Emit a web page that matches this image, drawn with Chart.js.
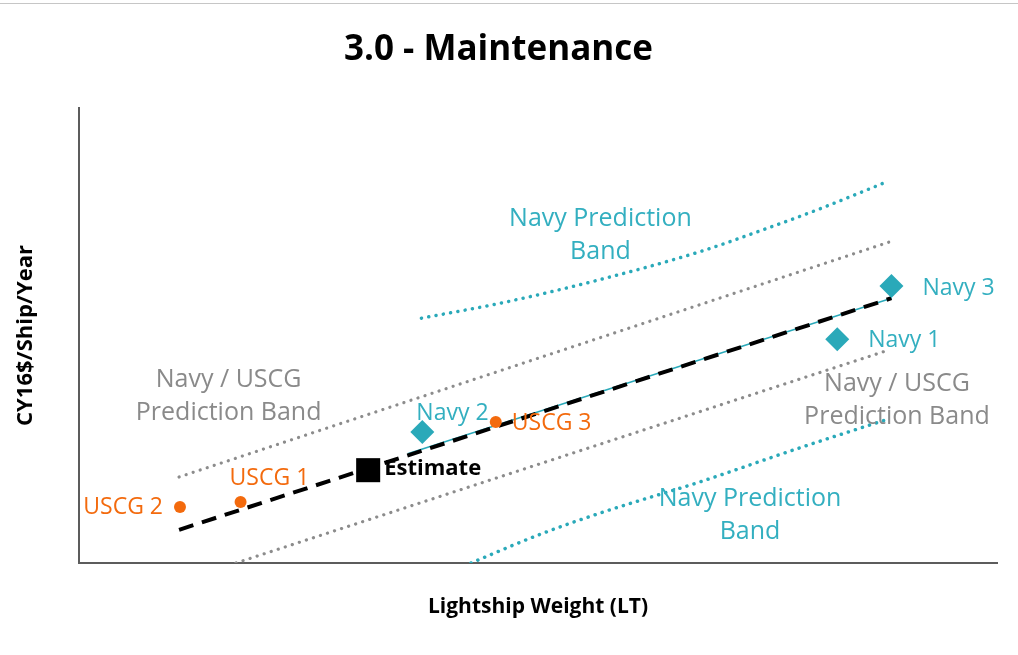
<!DOCTYPE html>
<html>
<head>
<meta charset="utf-8">
<script src="https://cdn.jsdelivr.net/npm/chart.js@4"></script>
<style>
  html, body { margin: 0; padding: 0; background: #fff; }
  #wrap { position: relative; width: 1018px; height: 655px; }
  #topline { position: absolute; left: 0; top: 3px; width: 1018px; height: 1px; background: #c6c6c6; }
</style>
</head>
<body>
<div id="wrap">
  <div id="topline"></div>
  <canvas id="c" width="1018" height="655"></canvas>
</div>
<script>
// ---- Data (x: lightship weight, y: CY16$/ship/year, arbitrary relative units) ----
const navyNames = ['Navy 1', 'Navy 2', 'Navy 3'];
const navyX = [82.6, 37.4, 88.5];
const navyY = [49.2, 28.8, 60.9];

const uscgNames = ['USCG 1', 'USCG 2', 'USCG 3'];
const uscgX = [17.6, 11.0, 45.4];
const uscgY = [13.4, 12.3, 31.0];

const estimateX = [31.5];
const estimateY = [20.4];

const combinedFitX = [10.9, 88.5];
const combinedFitY = [7.3, 58.2];

const navyFitX = [35.8, 88.5];
const navyFitY = [24.0, 58.2];

const combinedUpperX = [10.9, 88.2];
const combinedUpperY = [18.9, 70.5];
const combinedLowerX = [17.1, 88.2];
const combinedLowerY = [0.0, 46.8];

const navyUpperX = [37.3, 45.9, 56.2, 67.6, 74.2, 80.9, 87.9];
const navyUpperY = [53.8, 57.1, 62.0, 68.4, 73.0, 78.0, 83.7];
const navyLowerX = [42.7, 50.1, 56.8, 67.6, 78.5, 88.1];
const navyLowerY = [0.0, 6.2, 11.0, 17.8, 25.3, 31.6];

const bandLabelText = [['Navy Prediction', 'Band'], ['Navy / USCG', 'Prediction Band'], ['Navy / USCG', 'Prediction Band'], ['Navy Prediction', 'Band']];
const bandLabelX = [56.8, 16.3, 89.1, 73.1];
const bandLabelY = [72.1, 36.7, 35.8, 10.5];

const titleText = '3.0 - Maintenance';
const xTitle = 'Lightship Weight (LT)';
const yTitle = 'CY16$/Ship/Year';

// ---- Styles ----
const TEAL = '#2aa9b9';
const TEAL_TEXT = '#33afc0';
const ORANGE = '#f36a0d';
const GREY_TEXT = '#8a8a8a';
const GREY_DOT = '#8c8c8c';
const FONT = "'Open Sans', 'DejaVu Sans', sans-serif";

const pts = (xs, ys) => xs.map((x, i) => ({ x, y: ys[i] }));

// label offsets (px) relative to each marker
const navyLabelOffsets = [[31, 1, 'left'], [-6, -19, 'left'], [31, 3, 'left']];
const uscgLabelOffsets = [[-11, -24, 'left'], [-17, 0, 'right'], [16, 2, 'left']];

const labelPlugin = {
  id: 'labels',
  afterDatasetsDraw(chart) {
    const { ctx, scales: { x, y } } = chart;
    ctx.save();
    ctx.textBaseline = 'middle';
    const put = (names, xs, ys, offs, color, font) => {
      ctx.fillStyle = color; ctx.font = font;
      names.forEach((n, i) => {
        const [dx, dy, al] = offs[i];
        ctx.textAlign = al;
        ctx.fillText(n, x.getPixelForValue(xs[i]) + dx, y.getPixelForValue(ys[i]) + dy);
      });
    };
    put(navyNames, navyX, navyY, navyLabelOffsets, TEAL_TEXT, `23px ${FONT}`);
    put(uscgNames, uscgX, uscgY, uscgLabelOffsets, ORANGE, `23px ${FONT}`);
    put(['Estimate'], estimateX, estimateY, [[16, -1, 'left']], '#000', `bold 22px ${FONT}`);
    const colors = [TEAL_TEXT, GREY_TEXT, GREY_TEXT, TEAL_TEXT];
    ctx.textAlign = 'center';
    ctx.font = `25px ${FONT}`;
    bandLabelText.forEach((lines, i) => {
      ctx.fillStyle = colors[i];
      const cx = x.getPixelForValue(bandLabelX[i]);
      const cy = y.getPixelForValue(bandLabelY[i]);
      lines.forEach((t, j) => ctx.fillText(t, cx, cy - 16.5 + j * 33.5));
    });
    ctx.restore();
  }
};

const dotted = (color, w) => ({
  showLine: true, borderColor: color, borderWidth: w, borderDash: [0.1, 7.3],
  borderCapStyle: 'round', pointRadius: 0, pointHoverRadius: 0, fill: false, tension: 0
});

new Chart(document.getElementById('c'), {
  type: 'scatter',
  data: {
    datasets: [
      { label: 'Estimate', data: pts(estimateX, estimateY), pointStyle: 'rect', pointRadius: 17,
        backgroundColor: '#000', borderColor: '#000', borderWidth: 0 },
      { label: 'Navy', data: pts(navyX, navyY), pointStyle: 'rectRot', pointRadius: 12,
        backgroundColor: TEAL, borderColor: TEAL, borderWidth: 0 },
      { label: 'USCG', data: pts(uscgX, uscgY), pointStyle: 'circle', pointRadius: 6,
        backgroundColor: ORANGE, borderColor: ORANGE, borderWidth: 0 },
      { label: 'Combined fit', data: pts(combinedFitX, combinedFitY), showLine: true,
        borderColor: '#000', borderWidth: 4, borderDash: [15, 9], pointRadius: 0 },
      { label: 'Navy fit', data: pts(navyFitX, navyFitY), showLine: true,
        borderColor: TEAL, borderWidth: 1.5, pointRadius: 0 },
      Object.assign({ label: 'Combined upper', data: pts(combinedUpperX, combinedUpperY) }, dotted(GREY_DOT, 3.2)),
      Object.assign({ label: 'Combined lower', data: pts(combinedLowerX, combinedLowerY) }, dotted(GREY_DOT, 3.2)),
      Object.assign({ label: 'Navy upper', data: pts(navyUpperX, navyUpperY), cubicInterpolationMode: 'monotone' }, dotted(TEAL, 3.5)),
      Object.assign({ label: 'Navy lower', data: pts(navyLowerX, navyLowerY), cubicInterpolationMode: 'monotone' }, dotted(TEAL, 3.5))
    ]
  },
  options: {
    responsive: false,
    animation: false,
    events: [],
    layout: { padding: { left: 0, right: 21, top: 0, bottom: 0 } },
    plugins: {
      legend: { display: false },
      tooltip: { enabled: false },
      title: { display: true, text: titleText, color: '#000',
        font: { family: FONT, size: 35, weight: 'bold' }, padding: { top: 29, bottom: 37 } }
    },
    scales: {
      x: {
        type: 'linear', min: 0, max: 100,
        grid: { display: false, drawTicks: false },
        border: { display: true, color: '#5c5c5c', width: 2 },
        ticks: { display: false },
        title: { display: true, text: xTitle, color: '#000',
          font: { family: FONT, size: 21, weight: 'bold' }, padding: { top: 0, bottom: 35 } },
        afterFit(s) { s.height = 92; }
      },
      y: {
        type: 'linear', min: 0, max: 100,
        grid: { display: false, drawTicks: false },
        border: { display: true, color: '#5c5c5c', width: 2 },
        ticks: { display: false },
        title: { display: true, text: yTitle, color: '#000',
          font: { family: FONT, size: 22, weight: 'bold' }, padding: { top: 13, bottom: 0 } },
        afterFit(s) { s.width = 79; }
      }
    }
  },
  plugins: [labelPlugin]
});
</script>
</body>
</html>
